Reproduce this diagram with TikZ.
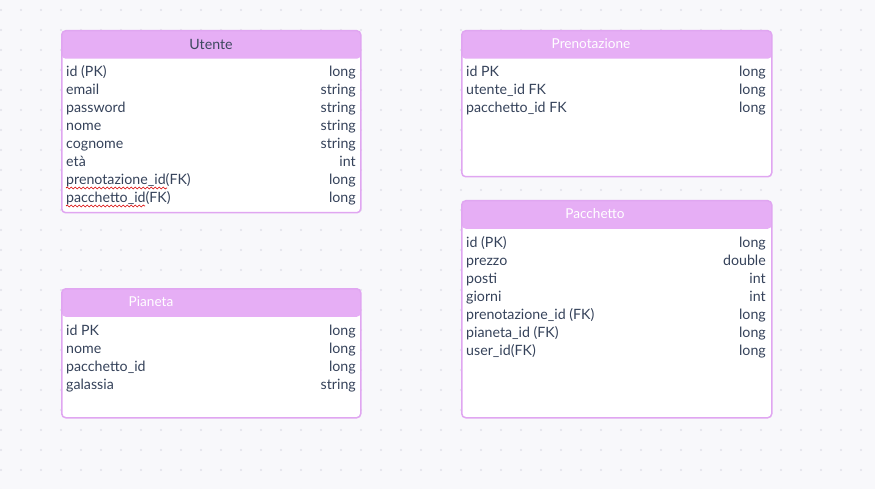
\documentclass[tikz,border=0pt]{standalone}
\usepackage{fontspec}
\setmainfont{Lato}
\usetikzlibrary{positioning, decorations.pathmorphing}
\definecolor{bgc}{HTML}{F8F8FB}
\definecolor{dotc}{HTML}{E1E2EA}
\definecolor{headc}{HTML}{E6AEF5}
\definecolor{edgec}{HTML}{E0A6F1}
\definecolor{inkc}{HTML}{35425A}
\tikzset{
  tbl/.style={draw=edgec, line width=1.5pt, fill=white, rounded corners=4pt, anchor=north west, inner sep=0pt,
    path picture={\fill[headc] (path picture bounding box.north west) rectangle ([yshift=-28pt]path picture bounding box.north east);}},
  field/.style={inner sep=0pt, text=inkc, font=\fontsize{14.2}{17}\selectfont},
  title/.style={inner sep=0pt, text=white, font=\fontsize{13.6}{17}\selectfont},
  wavy/.style={draw=red!85!black, line width=0.7pt, decorate, decoration={snake, segment length=4pt, amplitude=1pt}}
}
\begin{document}
\begin{tikzpicture}[x=1pt, y=-1pt]
\useasboundingbox (0,0) rectangle (875,489);
\fill[bgc] (0,0) rectangle (875,489);
\foreach \i in {0,...,43} \foreach \j in {0,...,24} \fill[dotc] (\i*20+1, \j*20+10) circle (1.2pt);

\node[tbl, minimum width=299pt, minimum height=182pt] (utente) at (61,30) {};
\node[title, text=inkc!90!gray, font=\fontsize{14.2}{17}\selectfont] (utente-t) at (211,44) {Utente};
\foreach \n/\t [count=\i from 0] in {id (PK)/long, email/string, password/string, nome/string, cognome/string, età/int, prenotazione\_id(FK)/long, pacchetto\_id(FK)/long}{
  \node[field, anchor=base west] (ut-\i) at (66, 77+18*\i) {\n};
  \node[field, anchor=base east] (ut-v\i) at (356, 77+18*\i) {\t};
}
\draw[wavy] ([yshift=-3pt]ut-6.base west) -- ++(101,0);
\draw[wavy] ([yshift=-3pt]ut-7.base west) -- ++(79,0);

\node[tbl, minimum width=310pt, minimum height=146pt] (prenotazione) at (461,30) {};
\node[title] (prenotazione-t) at (591,44) {Prenotazione};
\foreach \n/\t [count=\i from 0] in {id PK/long, utente\_id FK/long, pacchetto\_id FK/long}{
  \node[field, anchor=base west] (pr-\i) at (466, 77+18*\i) {\n};
  \node[field, anchor=base east] (pr-v\i) at (766, 77+18*\i) {\t};
}

\node[tbl, minimum width=310pt, minimum height=217pt] (pacchetto) at (461,200) {};
\node[title] (pacchetto-t) at (595,214) {Pacchetto};
\foreach \n/\t [count=\i from 0] in {id (PK)/long, prezzo/double, posti/int, giorni/int, prenotazione\_id (FK)/long, pianeta\_id (FK)/long, user\_id(FK)/long}{
  \node[field, anchor=base west] (pa-\i) at (466, 247+18*\i) {\n};
  \node[field, anchor=base east] (pa-v\i) at (766, 247+18*\i) {\t};
}

\node[tbl, minimum width=299pt, minimum height=129pt] (pianeta) at (61,288) {};
\node[title] (pianeta-t) at (151,302) {Pianeta};
\foreach \n/\t [count=\i from 0] in {id PK/long, nome/long, pacchetto\_id/long, galassia/string}{
  \node[field, anchor=base west] (pi-\i) at (66, 335+18*\i) {\n};
  \node[field, anchor=base east] (pi-v\i) at (356, 335+18*\i) {\t};
}
\end{tikzpicture}
\end{document}
